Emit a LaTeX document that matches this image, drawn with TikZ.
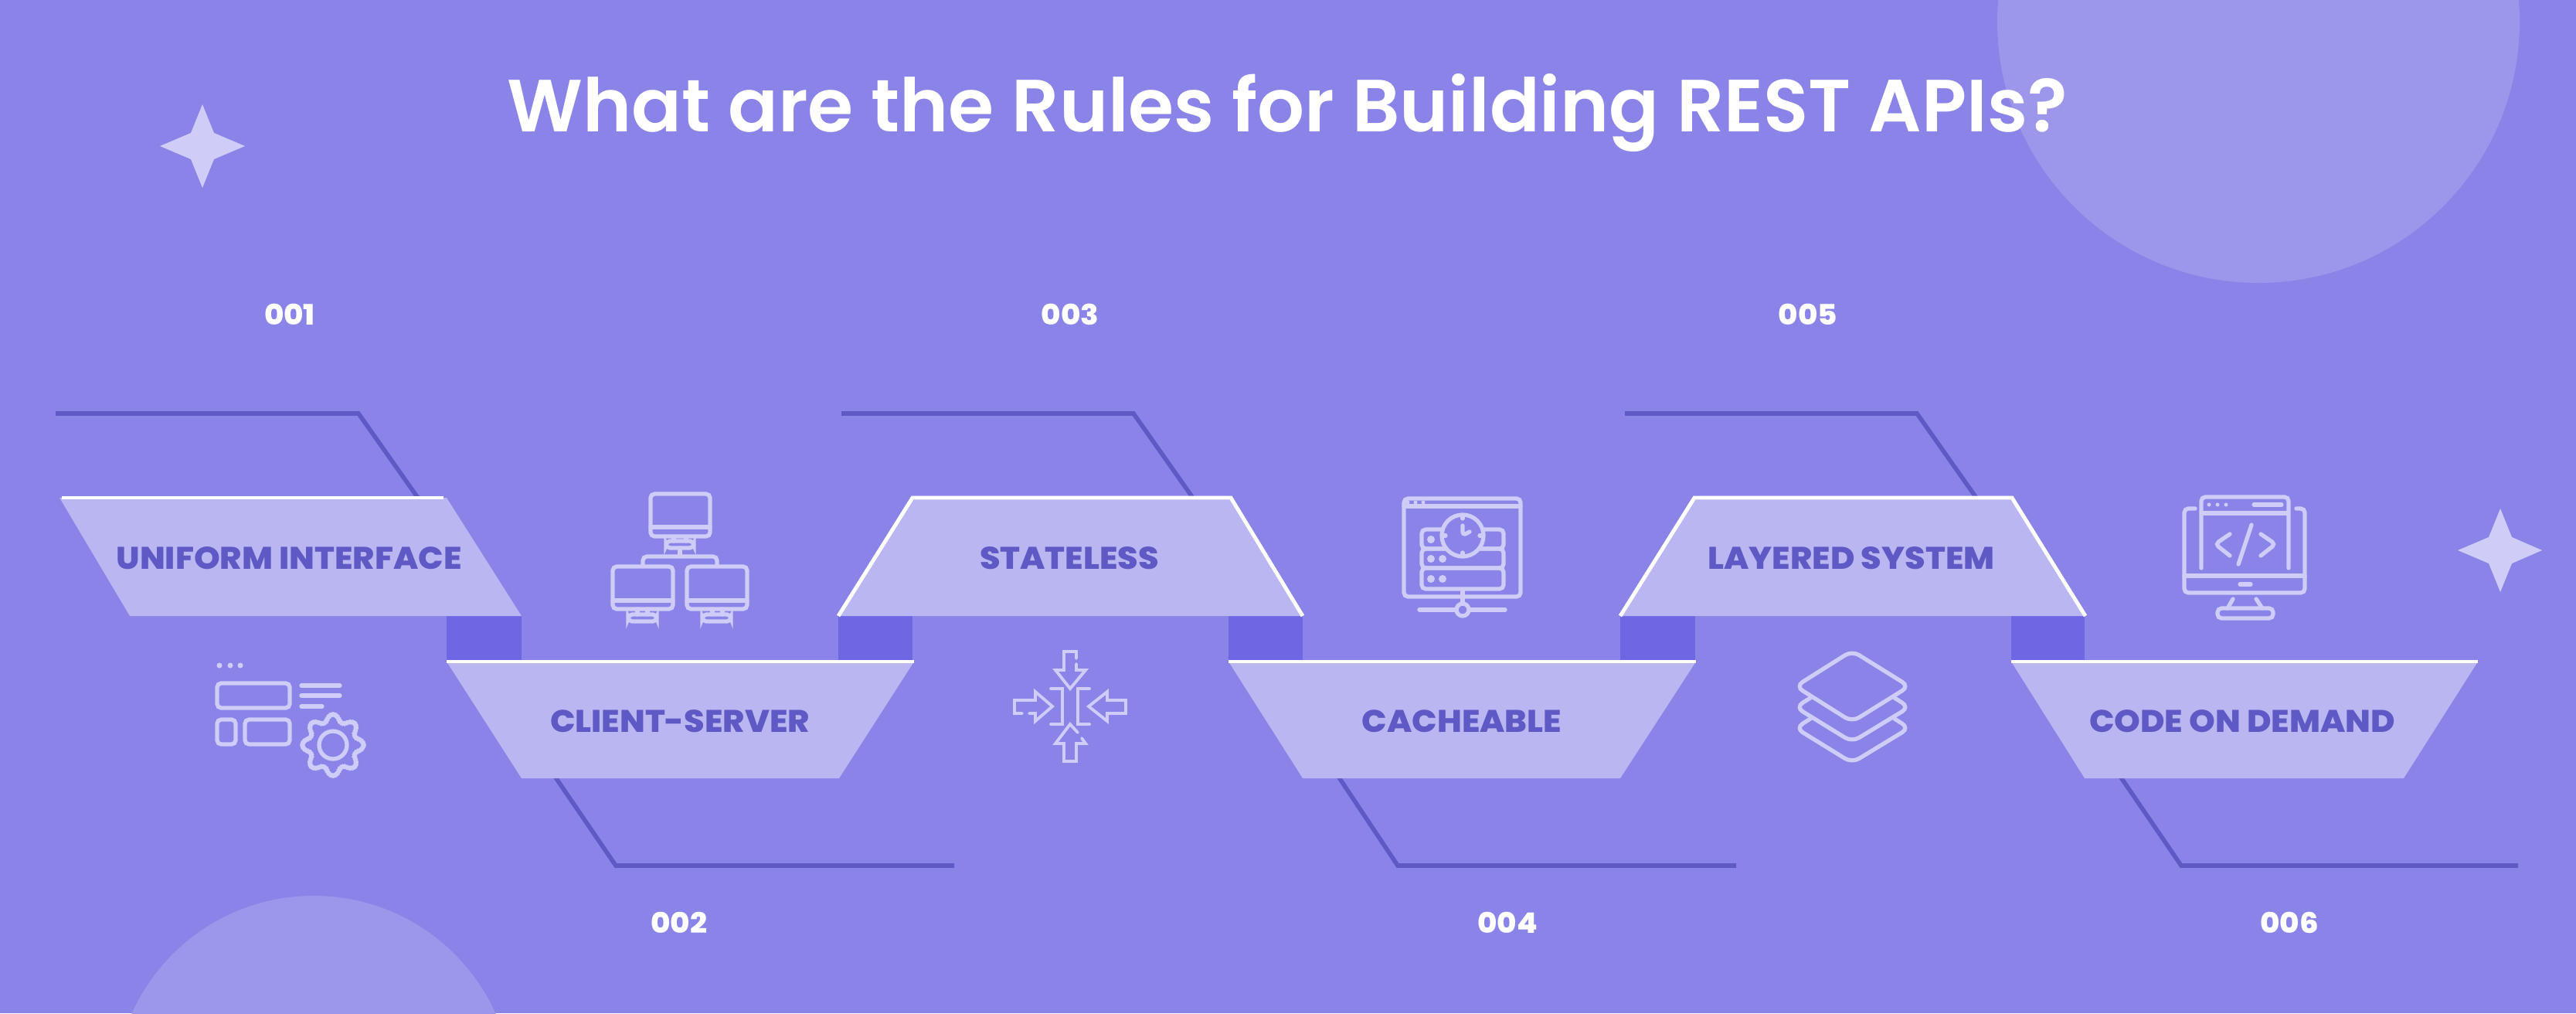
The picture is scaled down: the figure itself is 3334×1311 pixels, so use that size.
\documentclass[tikz,border=0pt]{standalone}
\usepackage{fontspec}
\setmainfont{Poppins}
\newfontfamily\titlefont{Poppins SemiBold}
\newfontfamily\bandfont[FakeStretch=1.06]{Poppins ExtraBold}
\definecolor{bgcol}{HTML}{8A84E8}
\definecolor{blobcol}{HTML}{9C97EA}
\definecolor{bandcol}{HTML}{B9B6F1}
\definecolor{joincol}{HTML}{6F66E3}
\definecolor{leadcol}{HTML}{5F59C6}
\definecolor{iconcol}{HTML}{CFCCF7}
\tikzset{
	band/.style={fill=bandcol},
	edgeline/.style={draw=white, line width=1.4pt},
	joinbox/.style={fill=joincol},
	leadline/.style={draw=leadcol, line width=1.6pt},
	bandlabel/.style={text=leadcol, font=\fontsize{11.5}{13}\bandfont},
	numlabel/.style={text=white, font=\fontsize{10.4}{12}\bandfont},
	icon/.style={draw=iconcol, line width=1.5pt, rounded corners=1.5pt, line cap=round},
	thinicon/.style={draw=iconcol, line width=1.1pt, line cap=round},
	icondot/.style={fill=iconcol},
	sparkle/.style={fill=iconcol}
}
\begin{document}
\begin{tikzpicture}[x=0.01cm, y=-0.01cm]
	\useasboundingbox (0,0) rectangle (3334,1311);
	\fill[bgcol] (0,0) rectangle (3334,1311);
	\begin{scope}
		\clip (0,0) rectangle (3334,1311);
		\fill[blobcol] (2923,28) circle [radius=338];
		\fill[blobcol] (406,1417) circle [radius=258];
	\end{scope}
	\node[text=white, font=\fontsize{27.2}{32}\titlefont] (title) at (1666,146) {What are the Rules for Building REST APIs?};
	% sparkles
	\fill[sparkle] (262,135) -- (277,172) -- (317,189) -- (277,206) -- (262,243) -- (247,206) -- (207,189) -- (247,172) -- cycle;
	\fill[sparkle] (3236,658) -- (3251,695) -- (3290,712) -- (3251,729) -- (3236,766) -- (3221,729) -- (3181,712) -- (3221,695) -- cycle;
	% numbers
	\node[numlabel] (n1) at (375,407) {001};
	\node[numlabel] (n2) at (879,1194) {002};
	\node[numlabel] (n3) at (1385,407) {003};
	\node[numlabel] (n4) at (1951,1194) {004};
	\node[numlabel] (n5) at (2340,407) {005};
	\node[numlabel] (n6) at (2963,1194) {006};
	% lead lines
	\coordinate (a1) at (72,535);
	\coordinate (b1) at (464,535);
	\coordinate (c1) at (545,650);
	\coordinate (a2) at (715,1000);
	\coordinate (b2) at (797,1120);
	\coordinate (c2) at (1235,1120);
	\coordinate (a3) at (1089,535);
	\coordinate (b3) at (1467,535);
	\coordinate (c3) at (1548,650);
	\coordinate (a4) at (1729,1000);
	\coordinate (b4) at (1809,1120);
	\coordinate (c4) at (2247,1120);
	\coordinate (a5) at (2103,535);
	\coordinate (b5) at (2481,535);
	\coordinate (c5) at (2562,650);
	\coordinate (a6) at (2741,1000);
	\coordinate (b6) at (2823,1120);
	\coordinate (c6) at (3259,1120);
	\draw[leadline] (a1) -- (b1) -- (c1);
	\draw[leadline] (a2) -- (b2) -- (c2);
	\draw[leadline] (a3) -- (b3) -- (c3);
	\draw[leadline] (a4) -- (b4) -- (c4);
	\draw[leadline] (a5) -- (b5) -- (c5);
	\draw[leadline] (a6) -- (b6) -- (c6);
	% joins between bands
	\fill[joinbox] (578,797) rectangle (675,856);
	\fill[joinbox] (1085,797) rectangle (1181,856);
	\fill[joinbox] (1590,797) rectangle (1686,856);
	\fill[joinbox] (2097,797) rectangle (2194,856);
	\fill[joinbox] (2603,797) rectangle (2698,856);
	% bands
	\fill[band] (77,644) -- (578,644) -- (675,797) -- (168,797) -- cycle;
	\fill[band] (578,856) -- (1183,856) -- (1086,1007) -- (675,1007) -- cycle;
	\fill[band] (1181,644) -- (1593,644) -- (1686,797) -- (1085,797) -- cycle;
	\fill[band] (1590,856) -- (2195,856) -- (2097,1007) -- (1686,1007) -- cycle;
	\fill[band] (2193,644) -- (2604,644) -- (2699,797) -- (2097,797) -- cycle;
	\fill[band] (2603,856) -- (3207,856) -- (3111,1007) -- (2698,1007) -- cycle;
	\draw[edgeline] (80,644) -- (574,644);
	\draw[edgeline] (578,856) -- (1183,856);
	\draw[edgeline] (1085,797) -- (1181,644) -- (1593,644) -- (1686,797);
	\draw[edgeline] (1590,856) -- (2195,856);
	\draw[edgeline] (2097,797) -- (2193,644) -- (2604,644) -- (2699,797);
	\draw[edgeline] (2603,856) -- (3207,856);
	\node[bandlabel] (uniform) at (374,722) {UNIFORM INTERFACE};
	\node[bandlabel] (client) at (880,933) {CLIENT-SERVER};
	\node[bandlabel] (stateless) at (1384,722) {STATELESS};
	\node[bandlabel] (cache) at (1892,933) {CACHEABLE};
	\node[bandlabel] (layered) at (2396,722) {LAYERED SYSTEM};
	\node[bandlabel] (code) at (2902,933) {CODE ON DEMAND};
	% icon: interface and gear
	\fill[icondot] (284,861) circle [radius=3.5];
	\fill[icondot] (298,861) circle [radius=3.5];
	\fill[icondot] (311,861) circle [radius=3.5];
	\draw[icon] (281,884) rectangle (375,916);
	\draw[icon] (281,931) rectangle (305,963);
	\draw[icon] (317,931) rectangle (375,963);
	\draw[icon] (390,887) -- (440,887);
	\draw[icon] (390,900) -- (440,900);
	\draw[icon] (390,914) -- (417,914);
	\draw[icon] plot[domain=0:360, samples=97, smooth] ({431+(35+4*cos(8*\x))*cos(\x)}, {964+(35+4*cos(8*\x))*sin(\x)}) -- cycle;
	\draw[icon] (431,964) circle [radius=18];
	% icon: three monitors
	\draw[icon] (842,639) rectangle (919,694);
	\draw[icon] (842,682) -- (919,682);
	\draw[icon] (872,694) -- (872,700);
	\draw[icon] (888,694) -- (888,700);
	\draw[icon] (862,700) rectangle (898,709);
	\draw[icon] (880,709) -- (880,720);
	\draw[icon] (832,732) -- (832,720) -- (928,720) -- (928,732);
	\draw[icon] (793,733) rectangle (871,788);
	\draw[icon] (793,777) -- (871,777);
	\draw[icon] (825,788) -- (825,795);
	\draw[icon] (838,788) -- (838,795);
	\draw[icon] (813,795) rectangle (850,804);
	\draw[icon] (889,733) rectangle (967,788);
	\draw[icon] (889,777) -- (967,777);
	\draw[icon] (922,788) -- (922,795);
	\draw[icon] (935,788) -- (935,795);
	\draw[icon] (909,795) rectangle (946,804);
	% icon: four arrows
	\draw[thinicon] (1393,852) -- (1393,843) -- (1377,843) -- (1377,867) -- (1366,867) -- (1385,891) -- (1405,867) -- (1393,867) -- (1393,859);
	\draw[thinicon] (1323,923) -- (1313,923) -- (1313,906) -- (1340,906) -- (1340,895) -- (1362,914) -- (1340,933) -- (1340,923) -- (1332,923);
	\draw[thinicon] (1409,914) -- (1433,895) -- (1433,906) -- (1457,906) -- (1457,923) -- (1433,923) -- (1433,933) -- cycle;
	\draw[thinicon] (1395,948) -- (1385,937) -- (1366,962) -- (1377,962) -- (1377,985) -- (1393,985) -- (1393,962) -- (1405,962) -- (1400,955);
	\draw[thinicon] (1360,891) -- (1375,891) -- (1375,937) -- (1360,937);
	\draw[thinicon] (1410,891) -- (1395,891) -- (1395,937) -- (1410,937);
	% icon: server and clock
	\draw[icon] (1817,645) rectangle (1968,772);
	\draw[icon] (1817,655) -- (1968,655);
	\fill[icondot] (1822,650) circle [radius=2.5];
	\fill[icondot] (1832,650) circle [radius=2.5];
	\fill[icondot] (1842,650) circle [radius=2.5];
	\draw[icon] (1840,685) rectangle (1946,710);
	\draw[icon] (1840,710) rectangle (1946,735);
	\draw[icon] (1840,735) rectangle (1946,762);
	\draw[icon, fill=bgcol] (1893,693) circle [radius=27];
	\draw[icon] (1893,680) -- (1893,693) -- (1902,688);
	\draw[icon] (1893,667) -- (1893,671);
	\draw[icon] (1893,715) -- (1893,719);
	\draw[icon] (1867,693) -- (1871,693);
	\draw[icon] (1915,693) -- (1919,693);
	\fill[icondot] (1852,698) circle [radius=5];
	\fill[icondot] (1852,723) circle [radius=5];
	\fill[icondot] (1867,723) circle [radius=5];
	\fill[icondot] (1852,749) circle [radius=5];
	\fill[icondot] (1867,749) circle [radius=5];
	\draw[icon] (1893,763) -- (1893,781);
	\draw[icon] (1893,789) circle [radius=8];
	\draw[icon] (1837,789) -- (1885,789);
	\draw[icon] (1901,789) -- (1948,789);
	% icon: layers
	\draw[icon, rounded corners=3pt] (2397,842) -- (2471,888) -- (2397,934) -- (2324,888) -- cycle;
	\draw[icon, rounded corners=3pt] (2343,903) -- (2324,915) -- (2397,960) -- (2471,915) -- (2452,903);
	\draw[icon, rounded corners=3pt] (2343,930) -- (2324,942) -- (2397,987) -- (2471,942) -- (2452,930);
	% icon: monitor with code
	\draw[icon] (2849,735) -- (2849,643) -- (2962,643) -- (2962,735);
	\draw[icon] (2849,664) -- (2962,664);
	\fill[icondot] (2859,653) circle [radius=2.5];
	\fill[icondot] (2870,653) circle [radius=2.5];
	\fill[icondot] (2881,653) circle [radius=2.5];
	\draw[icon] (2917,653) -- (2953,653);
	\draw[icon] (2841,658) -- (2827,658) -- (2827,767) -- (2983,767) -- (2983,658) -- (2972,658);
	\draw[icon] (2827,745) -- (2983,745);
	\draw[icon] (2899,756) -- (2913,756);
	\draw[icon] (2890,775) -- (2883,787);
	\draw[icon] (2920,775) -- (2928,787);
	\draw[icon] (2870,787) rectangle (2942,800);
	\draw[icon] (2886,691) -- (2867,704) -- (2886,719);
	\draw[icon] (2914,679) -- (2897,730);
	\draw[icon] (2926,691) -- (2945,704) -- (2926,719);
\end{tikzpicture}
\end{document}
